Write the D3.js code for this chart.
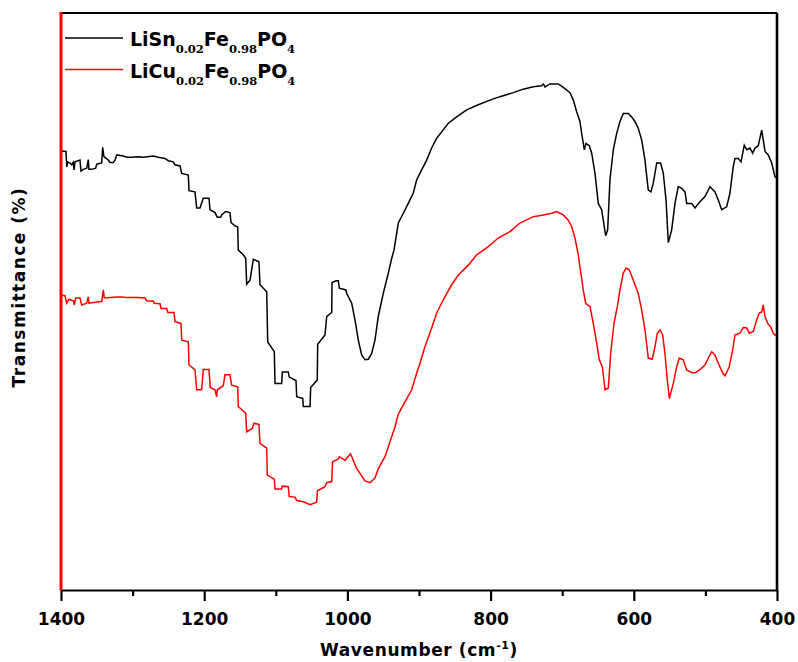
<!DOCTYPE html>
<html lang="en">
<head>
  <meta charset="UTF-8">
  <script src="https://d3js.org/d3.v7.min.js"></script>
  <title>FTIR spectra</title>
  <style>
    body { margin: 0; background: #fff; }
    text { font-family: "DejaVu Sans", sans-serif; font-weight: bold; fill: #000; }
    .sub { font-family: "DejaVu Serif", serif; font-weight: bold; }
  </style>
</head>
<body>
  <div id="chart"></div>
  <script>
    // series names (legend)
    const seriesNames = ["LiSn", "LiCu"];

    // LiSn0.02Fe0.98PO4 (black), wavenumber in cm-1
    const lisnWave = [1399,1393,1392,1390.6,1387.4,1385.1,1382.8,1381.8,1380.4,1373.5,1372.1,1368.9,1364.1,1361.9,1360.9,1357.1,1351.5,1350.1,1343.2,1341.8,1340,1333.9,1331.6,1327,1324.6,1322.2,1313,1308.2,1301.3,1292,1285.1,1271.1,1264.1,1254.8,1250.1,1243.2,1240.8,1233.8,1231.4,1222.2,1221.2,1212.9,1210.5,1205.9,1201.3,1193.3,1191.9,1184.9,1181.7,1177,1175.6,1170,1164,1162.6,1157,1153.2,1152.4,1145.4,1142,1140.7,1136,1131.4,1123.5,1122.1,1112.7,1111.3,1102.1,1101.1,1091.8,1090.9,1082.6,1081.2,1071.8,1070.8,1062.4,1061.6,1052.2,1051.3,1042.1,1041.5,1031.3,1028.9,1021.9,1021.5,1015.9,1012.7,1011.3,1002,1001,994,989.4,984.8,980,975.4,970.8,966.1,961.5,956.9,949.9,942.9,938.1,934.9,928.9,921.9,915,908,903.2,896.2,889.3,882.3,875.3,868.3,859.1,847.4,833.4,817.2,800.9,786.9,768.3,754.4,740.4,728.7,726.4,724,717.1,705.5,698.5,689.1,684.5,679.8,675.2,672.8,670.6,669.2,666.8,662.2,658.8,654.2,649.6,644.9,641.6,639.3,636.5,633.3,628.6,624,619.3,614.7,607.7,603,598.4,593.7,589,584.4,579.8,576,572.8,568,562.5,558.8,555,551.8,547.1,542.5,537.9,533.1,528.5,526.1,519.2,514.6,507.6,500.6,493.6,486.6,482,477.3,470.3,465.7,461.1,458.7,454.1,450.3,445.7,442.3,437.7,434,430.8,426.2,421.4,419.2,416.8,412.2,407.4,402.8,400];
    const lisnT = [76.1,76.0,73.3,74.2,74.0,73.7,74.1,72.8,74.2,74.5,72.6,72.9,73.1,74.6,72.9,72.9,73.1,73.8,74.0,76.7,75.1,74.5,74.1,74.1,74.5,75.4,75.2,75.0,75.0,75.1,75.0,75.2,75.0,74.8,74.4,74.2,73.7,73.5,72.2,71.9,69.2,69.0,66.2,66.2,67.9,67.9,65.9,65.4,64.6,64.6,65.0,65.6,65.4,63.7,63.1,62.9,58.9,58.1,57.5,53.0,53.7,57.3,56.9,52.9,51.7,43.0,41.3,35.8,35.8,37.8,37.8,36.9,36.3,33.5,33.2,31.8,31.8,35.1,36.4,42.6,44.2,47.4,48.1,53.3,53.6,53.6,52.3,52.0,51.4,49.7,46.8,43.3,40.7,39.9,40.0,41.0,43.3,47.4,51.4,54.9,57.5,58.9,63.6,65.3,67.0,68.8,71.1,72.8,74.5,76.6,78.3,79.4,80.9,82.0,83.2,84.1,84.9,85.5,86.2,86.8,87.2,87.4,87.7,87.2,87.7,87.7,87.1,86.2,84.9,82.9,81.2,79.1,77.5,76.3,77.4,77.0,75.7,72.2,67.0,65.9,63.3,61.4,62.4,71.1,76.3,79.1,81.2,82.6,82.6,82.0,81.2,80.0,78.0,74.5,69.3,69.0,70.5,74.0,74.0,72.2,67.6,60.2,62.4,67.0,69.9,69.6,69.0,67.0,67.0,66.2,67.3,68.2,69.9,69.0,67.6,65.9,66.4,68.8,73.4,74.8,74.8,74.2,77.1,76.3,76.6,75.7,76.6,77.0,79.7,78.0,76.0,75.4,74.0,71.6,71.4];

    // LiCu0.02Fe0.98PO4 (red)
    const licuWave = [1399,1394.4,1392,1388.8,1382.8,1381.4,1379.5,1373.5,1371.1,1364.1,1361.9,1360.9,1350.1,1343.2,1340.9,1339.5,1322.2,1313,1310.6,1292,1282.7,1280.3,1271.1,1269.7,1261.7,1260.3,1252.4,1251,1242.2,1240.8,1232.4,1231.4,1222.2,1221.2,1212.9,1210.5,1203.5,1201.3,1193.3,1191.5,1184.9,1182.5,1181.7,1173.3,1171,1164,1161.6,1153.2,1152.4,1142,1140.7,1132.8,1130.5,1123.5,1122.1,1112.7,1111.9,1102.1,1101.1,1091.8,1090.9,1082.6,1081.2,1073.2,1070.8,1061.6,1052.2,1042.9,1041.8,1031.3,1028.9,1021.9,1020.8,1012.7,1011.3,1003.3,995.7,993.6,987.3,982.4,975.4,968.4,961.5,956.9,947.5,940.5,933.5,928.9,919.6,910.2,903.2,898.6,891.6,882.3,875.3,866.1,854.4,845.1,831.2,819.4,803.2,789.3,772.9,759,740.4,726.4,714.7,707.7,698.5,691.5,686.8,682.2,677.5,675.2,670.6,667.2,661.2,656.6,651.8,648.2,644,640.2,635.6,632.3,627.7,623,619.3,614.7,610.9,606.3,600.7,593.7,589,584.4,579.8,574.2,570.4,567.2,563.4,559.7,556.5,553.2,550.4,544.8,540.1,536.5,530.9,526.1,519.2,514.6,507.6,500.6,496,491.2,486.6,482,475.8,472.6,466.7,461.9,458.7,451.7,447.1,442.3,438.7,433.1,428.4,424.7,421.4,419.2,416.8,413,408.9,405.2,402.8,400];
    const licuT = [51.1,51.0,49.7,50.4,50.1,49.4,50.6,50.6,49.4,49.7,50.8,49.7,49.9,50.0,52.0,50.6,50.8,50.8,50.7,50.7,50.6,50.1,50.1,49.7,49.6,48.8,48.8,48.1,48.1,46.5,46.2,43.3,43.0,39.0,38.2,34.7,34.7,38.2,38.2,35.1,34.7,33.5,34.7,35.4,37.3,37.3,35.5,35.2,31.8,30.6,27.4,28.0,28.9,28.7,25.4,24.6,19.9,19.2,17.5,17.5,18.0,17.9,16.2,16.1,15.5,15.3,14.8,15.2,17.2,17.9,18.6,18.8,22.2,22.7,23.1,22.5,23.6,23.0,21.1,20.2,18.9,18.6,19.4,21.0,23.1,25.7,28.3,30.5,32.6,34.7,37.6,39.3,42.2,45.4,48.0,50.3,52.9,54.6,56.3,58.1,59.5,61.0,62.1,63.6,64.7,65.0,65.3,65.6,65.0,64.1,63.0,61.0,58.1,56.0,52.0,49.7,49.1,46.2,42.8,39.9,38.7,34.7,35.0,41.0,46.2,49.1,52.0,54.9,55.8,55.5,53.7,51.4,48.5,45.1,40.2,40.0,42.2,44.5,45.1,44.2,41.0,36.4,33.2,35.8,38.7,40.2,39.9,38.1,37.7,37.6,38.2,39.0,40.2,41.3,40.7,39.3,37.6,37.1,38.7,41.6,44.2,44.5,45.5,45.4,44.5,44.8,46.8,48.0,48.2,49.4,47.4,46.2,45.6,44.5,44.2,44.0];

    const xMajor = [1400, 1200, 1000, 800, 600, 400];
    const xMinor = [1300, 1100, 900, 700, 500];

    const margin = { top: 13, right: 21, bottom: 72, left: 61 };
    const W = 798, H = 662;
    const width = W - margin.left - margin.right;   // 716
    const height = H - margin.top - margin.bottom;  // 577

    const svg = d3.select("#chart").append("svg")
      .attr("width", W).attr("height", H);
    const g = svg.append("g")
      .attr("transform", `translate(${margin.left},${margin.top})`);

    const x = d3.scaleLinear().domain([1400, 400]).range([0, width]);
    const y = d3.scaleLinear().domain([0, 100]).range([height, 0]);

    const line = d3.line().x(d => x(d[0])).y(d => y(d[1]));
    const black = lisnWave.map((w, i) => [w, lisnT[i]]);
    const red = licuWave.map((w, i) => [w, licuT[i]]);

    g.append("path").datum(black)
      .attr("d", line).attr("fill", "none")
      .attr("stroke", "#000").attr("stroke-width", 1.5);
    g.append("path").datum(red)
      .attr("d", line).attr("fill", "none")
      .attr("stroke", "#ff0000").attr("stroke-width", 1.5);

    // bottom axis: major and minor ticks
    const xAxis = g.append("g").attr("transform", `translate(0,${height})`)
      .call(d3.axisBottom(x).tickValues(xMajor).tickFormat(d3.format("d"))
        .tickSize(11).tickPadding(12).tickSizeOuter(0));
    xAxis.select(".domain").attr("stroke-width", 2.2);
    xAxis.selectAll(".tick line").attr("stroke-width", 2.2);
    xAxis.selectAll(".tick text").style("font-size", "17px")
      .style("font-family", "DejaVu Sans").style("font-weight", "bold");
    const xMin = g.append("g").attr("transform", `translate(0,${height})`)
      .call(d3.axisBottom(x).tickValues(xMinor).tickSize(6).tickFormat("").tickSizeOuter(0));
    xMin.select(".domain").remove();
    xMin.selectAll(".tick line").attr("stroke-width", 2.2);

    // frame: top + right in black, left axis in red
    g.append("line").attr("x1", 0).attr("x2", width).attr("y1", 0).attr("y2", 0)
      .attr("stroke", "#000").attr("stroke-width", 2.2);
    g.append("line").attr("x1", width).attr("x2", width).attr("y1", 0).attr("y2", height)
      .attr("stroke", "#000").attr("stroke-width", 2.6);
    g.append("line").attr("x1", 0).attr("x2", 0).attr("y1", -1).attr("y2", height)
      .attr("stroke", "#ff0000").attr("stroke-width", 3);

    // axis titles
    const xt = svg.append("text")
      .attr("x", margin.left + width / 2).attr("y", 656)
      .attr("text-anchor", "middle").style("font-size", "17px")
      .style("letter-spacing", "0.6px");
    xt.append("tspan").text("Wavenumber (cm");
    xt.append("tspan").attr("dy", -7).style("font-size", "11px").text("-1");
    xt.append("tspan").attr("dy", 7).text(")");

    svg.append("text")
      .attr("transform", `translate(25,${margin.top + 274}) rotate(-90)`)
      .attr("text-anchor", "middle").style("font-size", "17px")
      .style("letter-spacing", "1.5px")
      .text("Transmittance (%)");

    // legend
    const legendColors = ["#000", "#ff0000"];
    const legend = svg.append("g");
    seriesNames.forEach((name, i) => {
      const ly = 38 + i * 31.5;
      legend.append("line").attr("x1", 65).attr("x2", 123)
        .attr("y1", ly).attr("y2", ly)
        .attr("stroke", legendColors[i]).attr("stroke-width", 1.6);
      const t = legend.append("text").attr("x", 130).attr("y", ly + 8)
        .style("font-size", "19px");
      t.append("tspan").text(name);
      t.append("tspan").attr("class", "sub").attr("dy", 7).style("font-size", "11.5px").text("0.02");
      t.append("tspan").attr("dy", -7).text("Fe");
      t.append("tspan").attr("class", "sub").attr("dy", 7).style("font-size", "11.5px").text("0.98");
      t.append("tspan").attr("dy", -7).text("PO");
      t.append("tspan").attr("class", "sub").attr("dy", 7).style("font-size", "11.5px").text("4");
    });
  </script>
</body>
</html>
